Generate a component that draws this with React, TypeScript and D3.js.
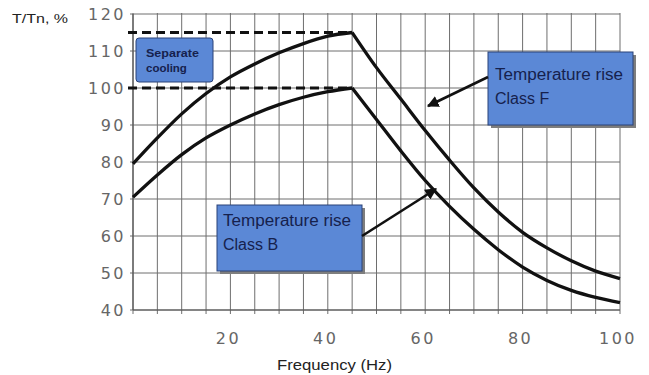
import React from "react";
import * as d3 from "d3";

const freqRise = [0, 5, 10, 15, 20, 25, 30, 35, 40, 45];
const classFRise = [79.5, 86.5, 93, 98.5, 103, 106.5, 109.5, 112, 114, 115];
const classBRise = [70.5, 76.5, 82, 86.5, 90, 93, 95.5, 97.5, 99, 100];
const freqFall = [45, 50, 55, 60, 65, 70, 75, 80, 85, 90, 95, 100];
const classFFall = [115, 105.5, 97, 88.5, 80.5, 73, 66.5, 61, 56.8, 53.3, 50.5, 48.5];
const classBFall = [100, 91.5, 83, 75, 68, 61.8, 56.3, 51.6, 48, 45.3, 43.4, 42];
const dashedLevels = [115, 100];
const yTicks = [40, 50, 60, 70, 80, 90, 100, 110, 120];
const xTickLabels = [20, 40, 60, 80, 100];
const xGrid = d3.range(0, 101, 5);
const yLabel = "T/Tn, %";
const xLabel = "Frequency (Hz)";
const boxF = ["Temperature rise", "Class F"];
const boxB = ["Temperature rise", "Class B"];
const boxCooling = ["Separate", "cooling"];

const W = 649, H = 375;
const x = d3.scaleLinear().domain([0, 100]).range([133, 620]);
const y = d3.scaleLinear().domain([40, 120]).range([310, 14]);

const line = d3
  .line<[number, number]>()
  .x((d) => x(d[0]))
  .y((d) => y(d[1]))
  .curve(d3.curveMonotoneX);

const zip = (a: number[], b: number[]) => a.map((v, i) => [v, b[i]] as [number, number]);

const BLUE = "#5b88d6";
const BORDER = "#2a4278";
const TEXT = "#16214d";
const GRID = "#6e6e6e";

export default function App() {
  const tickFont = "'DejaVu Sans', sans-serif";
  return (
    <svg
      width={W}
      height={H}
      style={{ position: "absolute", left: 0, top: 0, background: "#fff" }}
      fontFamily="'Liberation Sans', Arial, sans-serif"
    >
      <defs>
        <marker id="ah" viewBox="0 0 10 10" refX="9" refY="5" markerWidth="4.5" markerHeight="4.5" orient="auto">
          <path d="M0,0 L10,5 L0,10 z" fill="#111" />
        </marker>
      </defs>
      <rect width={W} height={H} fill="#fff" />
      {/* grid */}
      {xGrid.map((f) => (
        <line key={"vx" + f} x1={x(f)} x2={x(f)} y1={y(120) - 1} y2={y(40) + 4} stroke={GRID} strokeWidth={1} />
      ))}
      {yTicks.map((t) => (
        <line key={"hy" + t} x1={x(0) - 3} x2={x(100)} y1={y(t)} y2={y(t)} stroke={GRID} strokeWidth={1} />
      ))}
      <line x1={x(0)} x2={x(0)} y1={y(120)} y2={y(40)} stroke="#555" strokeWidth={1.2} />
      <line x1={x(0)} x2={x(100)} y1={y(40)} y2={y(40)} stroke="#555" strokeWidth={1.2} />
      {/* y tick labels */}
      {yTicks.map((t) => (
        <text
          key={"yl" + t}
          x={126}
          y={y(t)}
          dy="0.36em"
          textAnchor="end"
          fontFamily={tickFont}
          fontSize={16}
          letterSpacing={2.5}
          fill="#666"
        >
          {t}
        </text>
      ))}
      {xTickLabels.map((t) => (
        <text
          key={"xl" + t}
          x={x(t) - 2}
          y={338}
          dy="0.36em"
          textAnchor="middle"
          fontFamily={tickFont}
          fontSize={16}
          letterSpacing={2.5}
          fill="#666"
        >
          {t}
        </text>
      ))}
      <text x={12} y={23} fontSize={13} fill="#222" textLength={56} lengthAdjust="spacingAndGlyphs">
        {yLabel}
      </text>
      <text x={277} y={370} fontSize={14} fill="#222" textLength={115} lengthAdjust="spacingAndGlyphs">
        {xLabel}
      </text>
      {/* dashed reference lines */}
      {dashedLevels.map((v) => (
        <line key={"d" + v} x1={128} x2={x(45)} y1={y(v)} y2={y(v)} stroke="#111" strokeWidth={3} strokeDasharray="9,5" />
      ))}
      {/* curves */}
      {[zip(freqRise, classFRise), zip(freqFall, classFFall), zip(freqRise, classBRise), zip(freqFall, classBFall)].map(
        (d, i) => (
          <path key={"c" + i} d={line(d) || ""} fill="none" stroke="#111" strokeWidth={3.3} strokeLinejoin="round" />
        )
      )}
      {/* separate cooling box */}
      <rect x={136} y={38} width={77} height={44} rx={3} fill={BLUE} stroke={BORDER} strokeWidth={1} />
      <text x={146} y={57} fontSize={11.5} fontWeight="bold" fill={TEXT} textLength={53} lengthAdjust="spacingAndGlyphs">
        {boxCooling[0]}
      </text>
      <text x={146} y={72} fontSize={11.5} fontWeight="bold" fill={TEXT}>
        {boxCooling[1]}
      </text>
      {/* Class F box */}
      <rect x={491} y={55} width={145} height={73} fill="#7e7e7e" />
      <rect x={488} y={52} width={145} height={73} fill={BLUE} stroke={BORDER} strokeWidth={1} />
      <text x={495} y={80} fontSize={16} fill={TEXT} textLength={128} lengthAdjust="spacingAndGlyphs">
        {boxF[0]}
      </text>
      <text x={495} y={104} fontSize={16} fill={TEXT}>
        {boxF[1]}
      </text>
      <line x1={488} y1={77} x2={428} y2={106} stroke="#111" strokeWidth={2.6} markerEnd="url(#ah)" />
      {/* Class B box */}
      <rect x={220} y={208} width={145} height={66} fill="#7e7e7e" />
      <rect x={217} y={205} width={145} height={66} fill={BLUE} stroke={BORDER} strokeWidth={1} />
      <text x={223} y={226} fontSize={16} fill={TEXT} textLength={128} lengthAdjust="spacingAndGlyphs">
        {boxB[0]}
      </text>
      <text x={223} y={250} fontSize={16} fill={TEXT}>
        {boxB[1]}
      </text>
      <line x1={362} y1={236} x2={436} y2={189} stroke="#111" strokeWidth={2.6} markerEnd="url(#ah)" />
    </svg>
  );
}
